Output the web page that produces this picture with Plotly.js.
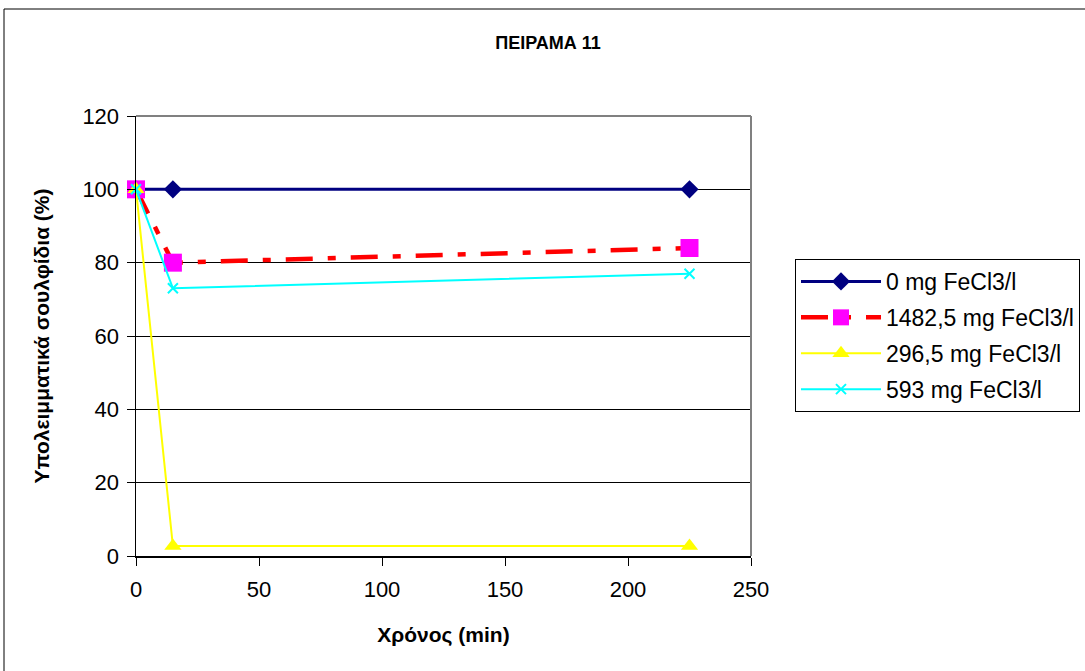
<!DOCTYPE html>
<html>
<head>
<meta charset="utf-8">
<script src="https://cdn.plot.ly/plotly-3.0.1.min.js"></script>
<style>
  html, body { margin: 0; padding: 0; background: #ffffff; }
  #chart { width: 1085px; height: 671px; }
</style>
</head>
<body>
<div id="chart"></div>
<script>
// Data
const timeMin = [0, 15, 225];
const seriesNames = ['0 mg FeCl3/l', '1482,5 mg FeCl3/l', '296,5 mg FeCl3/l', '593 mg FeCl3/l'];
const s0mg = [100, 100, 100];
const s1482 = [100, 80, 84];
const s296 = [100, 2.7, 2.7];
const s593 = [100, 73, 77];
const yTicks = [0, 20, 40, 60, 80, 100, 120];
const xTicks = [0, 50, 100, 150, 200, 250];
const chartTitle = 'ΠΕΙΡΑΜΑ 11';
const xTitle = 'Χρόνος (min)';
const yTitle = 'Υπολειμματικά σουλφίδια (%)';

const FONT = 'Liberation Sans, Arial, sans-serif';

const traces = [
  {
    x: timeMin, y: s0mg, name: seriesNames[0], type: 'scatter', mode: 'lines+markers',
    legendgroup: 'g0', cliponaxis: false,
    line: {color: '#000080', width: 3},
    marker: {symbol: 'diamond', size: 14, color: '#000080'}
  },
  {
    x: timeMin, y: s1482, name: seriesNames[1], type: 'scatter', mode: 'lines+markers',
    legendgroup: 'g1', cliponaxis: false,
    line: {color: '#FF0000', width: 4.5, dash: '27px,15px,8px,15px'},
    marker: {symbol: 'square', size: 18, color: '#FF00FF'}
  },
  {
    x: timeMin, y: s296, name: seriesNames[2], type: 'scatter', mode: 'lines+markers',
    legendgroup: 'g2', cliponaxis: false,
    line: {color: '#FFFF00', width: 2},
    marker: {symbol: 'triangle-up', size: 15, color: '#FFFF00'}
  },
  {
    x: timeMin, y: s593, name: seriesNames[3], type: 'scatter', mode: 'lines+markers',
    legendgroup: 'g3', cliponaxis: false,
    line: {color: '#00FFFF', width: 2},
    marker: {symbol: 'x-thin', size: 10, color: '#00FFFF', line: {color: '#00FFFF', width: 2}}
  }
];

const L = 136, R = 751, T = 116, B = 556, W = 1085, H = 671;
const pw = R - L, ph = B - T;
const px2x = p => (p - L) / pw;
const py2y = p => (B - p) / ph;

const layout = {
  width: W, height: H,
  margin: {l: L, r: W - R, t: T, b: H - B, pad: 0, autoexpand: false},
  paper_bgcolor: '#ffffff',
  plot_bgcolor: '#ffffff',
  font: {family: FONT, size: 22, color: '#000000'},
  showlegend: true,
  title: {
    text: chartTitle,
    font: {family: FONT, size: 18, color: '#000000', weight: 'bold'},
    xref: 'paper', x: px2x(548), xanchor: 'center',
    yref: 'container', y: 1 - 43 / H, yanchor: 'middle'
  },
  xaxis: {
    range: [0, 250],
    tickvals: xTicks,
    ticktext: xTicks.map(String),
    ticks: 'outside', ticklen: 8, tickwidth: 1, tickcolor: '#000000',
    ticklabelstandoff: 5,
    showline: true, linecolor: '#000000', linewidth: 1.5,
    showgrid: false, zeroline: false,
    tickfont: {family: FONT, size: 22, color: '#000000'},
    title: {text: xTitle, font: {family: FONT, size: 21, color: '#000000', weight: 'bold'}, standoff: 26},
    fixedrange: true
  },
  yaxis: {
    range: [0, 120],
    tickvals: yTicks,
    ticktext: yTicks.map(String),
    ticks: 'outside', ticklen: 8, tickwidth: 1, tickcolor: '#000000',
    ticklabelstandoff: 3,
    showline: true, linecolor: '#000000', linewidth: 1.5,
    showgrid: true, gridcolor: '#000000', gridwidth: 1,
    zeroline: false,
    tickfont: {family: FONT, size: 22, color: '#000000'},
    title: {text: yTitle, font: {family: FONT, size: 21, color: '#000000', weight: 'bold'}, standoff: 27},
    fixedrange: true
  },
  legend: {
    x: px2x(795), xanchor: 'left',
    y: py2y(259), yanchor: 'top',
    bgcolor: '#ffffff',
    bordercolor: '#000000', borderwidth: 1,
    font: {family: FONT, size: 23, color: '#000000'},
    tracegroupgap: 3,
    itemwidth: 80,
    traceorder: 'grouped'
  },
  shapes: [
    // plot area border (gray top and right)
    {type: 'line', xref: 'paper', yref: 'paper', x0: 0, x1: 1, y0: 1, y1: 1,
     line: {color: '#808080', width: 2}, layer: 'above'},
    {type: 'line', xref: 'paper', yref: 'paper', x0: 1, x1: 1, y0: 0, y1: 1,
     line: {color: '#808080', width: 2}, layer: 'above'},
    // outer chart border
    {type: 'rect', xref: 'paper', yref: 'paper',
     x0: px2x(4), x1: px2x(1095), y0: py2y(680), y1: py2y(9),
     line: {color: '#000000', width: 1}, fillcolor: 'rgba(0,0,0,0)', layer: 'below'}
  ]
};

Plotly.newPlot('chart', traces, layout, {displayModeBar: false, staticPlot: true});
</script>
</body>
</html>
